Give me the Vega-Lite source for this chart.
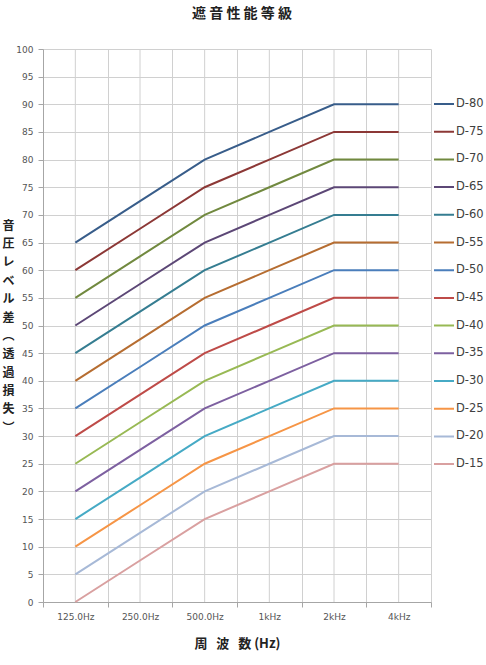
{
  "$schema": "https://vega.github.io/schema/vega-lite/v6.json",
  "width": 388,
  "height": 553,
  "autosize": {"type": "none"},
  "padding": {"left": 43, "top": 49, "right": 55, "bottom": 63},
  "background": "white",
  "title": {
    "text": "遮 音 性 能 等 級",
    "font": "Noto Sans CJK JP",
    "fontSize": 14,
    "fontWeight": "bold",
    "color": "#222222",
    "anchor": "middle",
    "frame": "group",
    "dx": 5,
    "offset": 24
  },
  "config": {
    "view": {"stroke": null},
    "axis": {"labelFont": "DejaVu Sans", "titleFont": "Noto Sans CJK JP"}
  },
  "data": {
    "values": [
      {"series": "D-80", "freq": "125.0Hz", "value": 65}, {"series": "D-80", "freq": "250.0Hz", "value": 72.5}, {"series": "D-80", "freq": "500.0Hz", "value": 80}, {"series": "D-80", "freq": "1kHz", "value": 85}, {"series": "D-80", "freq": "2kHz", "value": 90}, {"series": "D-80", "freq": "4kHz", "value": 90},
      {"series": "D-75", "freq": "125.0Hz", "value": 60}, {"series": "D-75", "freq": "250.0Hz", "value": 67.5}, {"series": "D-75", "freq": "500.0Hz", "value": 75}, {"series": "D-75", "freq": "1kHz", "value": 80}, {"series": "D-75", "freq": "2kHz", "value": 85}, {"series": "D-75", "freq": "4kHz", "value": 85},
      {"series": "D-70", "freq": "125.0Hz", "value": 55}, {"series": "D-70", "freq": "250.0Hz", "value": 62.5}, {"series": "D-70", "freq": "500.0Hz", "value": 70}, {"series": "D-70", "freq": "1kHz", "value": 75}, {"series": "D-70", "freq": "2kHz", "value": 80}, {"series": "D-70", "freq": "4kHz", "value": 80},
      {"series": "D-65", "freq": "125.0Hz", "value": 50}, {"series": "D-65", "freq": "250.0Hz", "value": 57.5}, {"series": "D-65", "freq": "500.0Hz", "value": 65}, {"series": "D-65", "freq": "1kHz", "value": 70}, {"series": "D-65", "freq": "2kHz", "value": 75}, {"series": "D-65", "freq": "4kHz", "value": 75},
      {"series": "D-60", "freq": "125.0Hz", "value": 45}, {"series": "D-60", "freq": "250.0Hz", "value": 52.5}, {"series": "D-60", "freq": "500.0Hz", "value": 60}, {"series": "D-60", "freq": "1kHz", "value": 65}, {"series": "D-60", "freq": "2kHz", "value": 70}, {"series": "D-60", "freq": "4kHz", "value": 70},
      {"series": "D-55", "freq": "125.0Hz", "value": 40}, {"series": "D-55", "freq": "250.0Hz", "value": 47.5}, {"series": "D-55", "freq": "500.0Hz", "value": 55}, {"series": "D-55", "freq": "1kHz", "value": 60}, {"series": "D-55", "freq": "2kHz", "value": 65}, {"series": "D-55", "freq": "4kHz", "value": 65},
      {"series": "D-50", "freq": "125.0Hz", "value": 35}, {"series": "D-50", "freq": "250.0Hz", "value": 42.5}, {"series": "D-50", "freq": "500.0Hz", "value": 50}, {"series": "D-50", "freq": "1kHz", "value": 55}, {"series": "D-50", "freq": "2kHz", "value": 60}, {"series": "D-50", "freq": "4kHz", "value": 60},
      {"series": "D-45", "freq": "125.0Hz", "value": 30}, {"series": "D-45", "freq": "250.0Hz", "value": 37.5}, {"series": "D-45", "freq": "500.0Hz", "value": 45}, {"series": "D-45", "freq": "1kHz", "value": 50}, {"series": "D-45", "freq": "2kHz", "value": 55}, {"series": "D-45", "freq": "4kHz", "value": 55},
      {"series": "D-40", "freq": "125.0Hz", "value": 25}, {"series": "D-40", "freq": "250.0Hz", "value": 32.5}, {"series": "D-40", "freq": "500.0Hz", "value": 40}, {"series": "D-40", "freq": "1kHz", "value": 45}, {"series": "D-40", "freq": "2kHz", "value": 50}, {"series": "D-40", "freq": "4kHz", "value": 50},
      {"series": "D-35", "freq": "125.0Hz", "value": 20}, {"series": "D-35", "freq": "250.0Hz", "value": 27.5}, {"series": "D-35", "freq": "500.0Hz", "value": 35}, {"series": "D-35", "freq": "1kHz", "value": 40}, {"series": "D-35", "freq": "2kHz", "value": 45}, {"series": "D-35", "freq": "4kHz", "value": 45},
      {"series": "D-30", "freq": "125.0Hz", "value": 15}, {"series": "D-30", "freq": "250.0Hz", "value": 22.5}, {"series": "D-30", "freq": "500.0Hz", "value": 30}, {"series": "D-30", "freq": "1kHz", "value": 35}, {"series": "D-30", "freq": "2kHz", "value": 40}, {"series": "D-30", "freq": "4kHz", "value": 40},
      {"series": "D-25", "freq": "125.0Hz", "value": 10}, {"series": "D-25", "freq": "250.0Hz", "value": 17.5}, {"series": "D-25", "freq": "500.0Hz", "value": 25}, {"series": "D-25", "freq": "1kHz", "value": 30}, {"series": "D-25", "freq": "2kHz", "value": 35}, {"series": "D-25", "freq": "4kHz", "value": 35},
      {"series": "D-20", "freq": "125.0Hz", "value": 5}, {"series": "D-20", "freq": "250.0Hz", "value": 12.5}, {"series": "D-20", "freq": "500.0Hz", "value": 20}, {"series": "D-20", "freq": "1kHz", "value": 25}, {"series": "D-20", "freq": "2kHz", "value": 30}, {"series": "D-20", "freq": "4kHz", "value": 30},
      {"series": "D-15", "freq": "125.0Hz", "value": 0}, {"series": "D-15", "freq": "250.0Hz", "value": 7.5}, {"series": "D-15", "freq": "500.0Hz", "value": 15}, {"series": "D-15", "freq": "1kHz", "value": 20}, {"series": "D-15", "freq": "2kHz", "value": 25}, {"series": "D-15", "freq": "4kHz", "value": 25}
    ]
  },
  "encoding": {
    "x": {
      "field": "freq",
      "type": "ordinal",
      "sort": ["125.0Hz", "250.0Hz", "500.0Hz", "1kHz", "2kHz", "4kHz"],
      "bandPosition": 0.5,
      "scale": {"type": "band", "paddingInner": 0, "paddingOuter": 0},
      "axis": {
        "title": "周\u00a0\u00a0\u00a0波\u00a0\u00a0\u00a0数\u00a0(Hz)",
        "titleFontSize": 13,
        "titleFontWeight": "bold",
        "titleColor": "#222222",
        "titlePadding": 16,
        "labelAngle": 0,
        "labelFontSize": 9,
        "labelColor": "#555555",
        "labelPadding": 5,
        "tickBand": "extent",
        "tickSize": 5,
        "tickColor": "#A6A6A6",
        "domainColor": "#A6A6A6",
        "grid": true,
        "gridColor": "#D0D0D0"
      }
    }
  },
  "layer": [
    {
      "data": {"values": [{"freq": "125.0Hz"}, {"freq": "250.0Hz"}, {"freq": "500.0Hz"}, {"freq": "1kHz"}, {"freq": "2kHz"}, {"freq": "4kHz"}]},
      "mark": {"type": "rule", "color": "#D0D0D0", "strokeWidth": 1}
    },
    {
      "mark": {"type": "line", "strokeWidth": 2},
      "encoding": {
        "y": {
          "field": "value",
          "type": "quantitative",
          "scale": {"domain": [0, 100], "nice": false},
          "axis": {
            "values": [0, 5, 10, 15, 20, 25, 30, 35, 40, 45, 50, 55, 60, 65, 70, 75, 80, 85, 90, 95, 100],
            "title": ["音", "圧", "レ", "ベ", "ル", "差", "︵", "透", "過", "損", "失", "︶"],
            "titleAngle": 0,
            "titleFontSize": 12,
            "titleFontWeight": "bold",
            "titleColor": "#222222",
            "titleLineHeight": 18.4,
            "titleAlign": "center",
            "titleBaseline": "middle",
            "titleX": -35,
            "titleY": 176,
            "labelFontSize": 9,
            "labelColor": "#555555",
            "labelPadding": 5,
            "tickSize": 5,
            "tickColor": "#A6A6A6",
            "domainColor": "#A6A6A6",
            "grid": true,
            "gridColor": "#D0D0D0"
          }
        },
        "color": {
          "field": "series",
          "type": "nominal",
          "scale": {
            "domain": ["D-80", "D-75", "D-70", "D-65", "D-60", "D-55", "D-50", "D-45", "D-40", "D-35", "D-30", "D-25", "D-20", "D-15"],
            "range": ["#385D8A", "#8C3836", "#71893F", "#5C4776", "#357D91", "#B66D31", "#4A7EBB", "#BE4B48", "#98B954", "#7D60A0", "#46AAC5", "#F69546", "#A7B9D7", "#D9A0A0"]
          },
          "legend": {
            "title": null,
            "orient": "none",
            "legendX": 390,
            "legendY": 45,
            "padding": 0,
            "symbolType": "stroke",
            "symbolSize": 400,
            "symbolStrokeWidth": 2,
            "labelFont": "DejaVu Sans",
            "labelFontSize": 11.5,
            "labelColor": "#404040",
            "labelOffset": 1,
            "clipHeight": 20,
            "rowPadding": 7.7
          }
        }
      }
    }
  ]
}
